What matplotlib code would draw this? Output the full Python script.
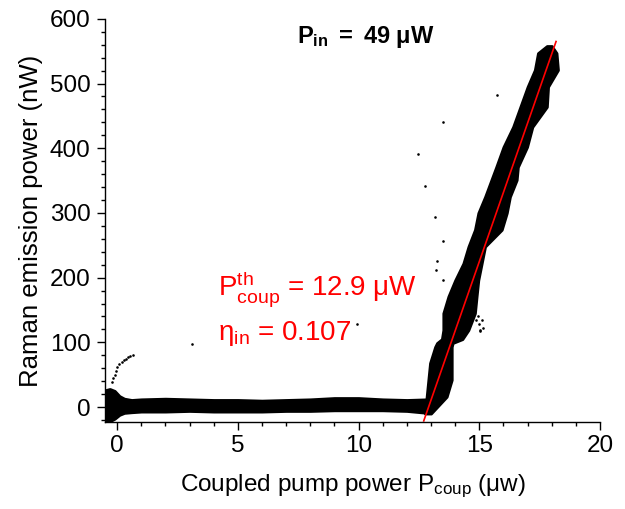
import matplotlib
matplotlib.use("Agg")
import matplotlib.pyplot as plt
from matplotlib.ticker import MultipleLocator

plt.rcParams['font.family'] = ['Liberation Sans', 'DejaVu Sans']
plt.rcParams['mathtext.fontset'] = 'custom'
plt.rcParams['mathtext.rm'] = 'Liberation Sans'
plt.rcParams['mathtext.bf'] = 'Liberation Sans:bold'
plt.rcParams['mathtext.it'] = 'Liberation Sans:italic'

# --- flat (below threshold) band envelope: x, lower, upper (nW)
flat_x  = [-0.5, -0.3, -0.1, 0.1, 0.3, 0.6, 1, 2, 3, 4, 5, 6, 7, 8, 9, 10, 11, 12, 12.85]
flat_lo = [-23, -22, -18, -12, -9, -8, -7, -7, -6, -7, -7, -7, -6, -6, -5, -5, -5, -6, -9]
flat_hi = [26, 28, 25, 17, 13, 11, 12, 13, 12, 11, 11, 10, 11, 12, 14, 14, 12, 11, 12]

# --- rising (above threshold) band envelope: y level, left x, right x
rise_y     = [-10, 16, 42, 68, 93, 99, 105, 119, 145, 171, 196, 222, 248, 274, 300, 325,
              351, 371, 402, 433, 464, 495, 521, 547, 558]
rise_left  = [12.75, 12.82, 12.89, 12.96, 13.17, 13.25, 13.45, 13.51, 13.51, 13.72, 14.0, 14.34,
              14.55, 14.82, 14.96, 15.24, 15.5, 15.7, 16.0, 16.4, 16.7, 17.0, 17.3, 17.43, 17.8]
rise_right = [13.0, 13.65, 13.86, 13.86, 13.86, 13.9, 14.3, 14.55, 14.82, 14.89, 14.96, 15.1,
              15.24, 15.93, 16.14, 16.27, 16.55, 16.6, 16.98, 17.2, 17.8, 17.85, 18.26, 18.2, 18.0]

# --- sparse points
sparse_x = [-0.22, -0.15, -0.1, -0.05, 0.01, 0.1, 0.19, 0.28, 0.37, 0.46, 0.55, 0.65,
            3.12, 9.95, 13.5, 12.45, 12.77, 13.17, 13.51, 13.26, 13.21, 13.51, 15.72,
            15.03, 15.14, 14.87, 15.0, 15.1, 14.95, 15.05]
sparse_y = [39, 45, 50, 55, 62, 66, 70, 73, 75, 77, 79, 80,
            97, 128, 441, 391, 342, 294, 256, 226, 212, 196, 482,
            119, 122, 134, 128, 135, 140, 118]

# --- fit line
fit_x = [12.7, 18.18]
P_th = 12.9
eta = 107.0  # nW per uW
fit_y = [eta * (v - P_th) for v in fit_x]

fig = plt.figure(figsize=(6.25, 5.09), dpi=100)
ax = fig.add_axes([0.168, 0.171, 0.792, 0.792])

ax.fill_between(flat_x, flat_lo, flat_hi, facecolor='black', edgecolor='black',
                lw=2.0, joinstyle='round')
ax.fill_betweenx(rise_y, rise_left, rise_right, facecolor='black', edgecolor='black',
                 lw=2.0, joinstyle='round')
ax.scatter(sparse_x, sparse_y, s=3.5, color='black', lw=0)
ax.plot(fit_x, fit_y, color='red', lw=1.2)

ax.set_xlim(-0.5, 20)
ax.set_ylim(-23, 600)
ax.spines['top'].set_visible(False)
ax.spines['right'].set_visible(False)
ax.spines['left'].set_linewidth(1.0)
ax.spines['bottom'].set_linewidth(1.0)

ax.xaxis.set_major_locator(MultipleLocator(5))
ax.xaxis.set_minor_locator(MultipleLocator(1))
ax.yaxis.set_major_locator(MultipleLocator(100))
ax.yaxis.set_minor_locator(MultipleLocator(20))
ax.tick_params(which='major', direction='out', length=5.5, width=1.0, labelsize=17.5)
ax.tick_params(axis='y', which='major', pad=5)
ax.tick_params(axis='x', which='major', pad=4)
ax.tick_params(which='minor', direction='out', length=3, width=1.0)

ax.set_xlabel(r'Coupled pump power P$_{\rm coup}$ ($\rm \mu$w)', fontsize=17.5, labelpad=11)
ax.set_ylabel('Raman emission power (nW)', fontsize=18.5, labelpad=5)

ax.text(10.3, 563, r'$\mathbf{P_{in}}$' + r'$\mathbf{\ =\ 49\ }$' + 'μW', fontsize=17,
        fontweight='bold', ha='center', va='baseline')
ax.text(4.18, 173, r'P$^{\rm th}_{\rm coup}$ = 12.9 μW', fontsize=20, color='red', va='baseline')
ax.text(4.18, 104, r'η$_{\rm in}$ = 0.107', fontsize=20, color='red', va='baseline')

fig.savefig('out.png', dpi=100)
